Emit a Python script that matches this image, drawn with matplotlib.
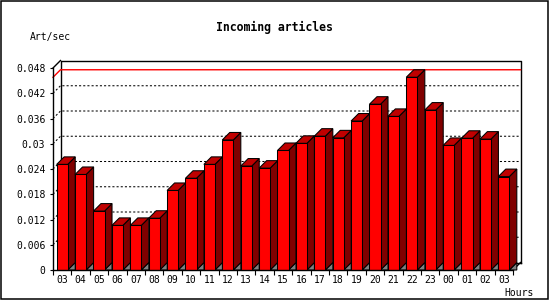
import numpy as np
import matplotlib
matplotlib.use("Agg")
import matplotlib.pyplot as plt
from matplotlib.patches import Rectangle, Polygon

# hourly data
hours = ["03", "04", "05", "06", "07", "08", "09", "10", "11", "12", "13", "14",
         "15", "16", "17", "18", "19", "20", "21", "22", "23", "00", "01", "02", "03"]
art_per_sec = [0.0251, 0.0227, 0.0140, 0.0106, 0.0106, 0.0123, 0.0189, 0.0218,
               0.0251, 0.0309, 0.0247, 0.0242, 0.0284, 0.0301, 0.0318, 0.0314,
               0.0354, 0.0394, 0.0365, 0.0458, 0.0380, 0.0296, 0.0313, 0.0311,
               0.0222]
yticks = [0, 0.006, 0.012, 0.018, 0.024, 0.03, 0.036, 0.042, 0.048]
ytick_labels = ["0", "0.006", "0.012", "0.018", "0.024", "0.03", "0.036", "0.042", "0.048"]

W, H = 550, 300
fig = plt.figure(figsize=(W / 100, H / 100), dpi=100)
fig.patch.set_facecolor("white")

# front plane of the plot, in pixels: x 53..513, y 68..270
ax = fig.add_axes([53 / W, (H - 270) / H, 460 / W, 202 / H])
ymax = 0.048
n = len(art_per_sec)
ax.set_xlim(-0.5, n - 0.5)
ax.set_ylim(0, ymax)
ax.patch.set_alpha(0)

px_x = 460 / n            # pixels per bar slot
px_y = 202 / ymax          # pixels per unit
dx = 7.5 / px_x            # 3d depth offset in data units
dy = 7.5 / px_y
hw = 0.3                   # half width of bar front
lw = 0.75

mono = "DejaVu Sans Mono"

# gridlines on the back wall (dotted) with short slant from the front axis
for y in yticks[1:-1]:
    ax.plot([-0.5, -0.5 + dx, n - 0.5 + dx], [y, y + dy, y + dy],
            color="black", lw=lw, ls=(0, (2, 2)), clip_on=False, zorder=1)

# red line at the maximum value
vmax = max(art_per_sec)
ax.plot([-0.5, -0.5 + dx, n - 0.5 + dx], [vmax, vmax + dy, vmax + dy],
        color="red", lw=1.0, clip_on=False, zorder=1.5)

# back wall frame
x0, x1 = -0.5, n - 0.5
ax.plot([x0 + dx, x0 + dx, x1 + dx, x1 + dx], [dy, ymax + dy, ymax + dy, dy],
        color="black", lw=1.0, clip_on=False, zorder=1)
ax.plot([x0, x0 + dx], [ymax, ymax + dy], color="black", lw=1.0, clip_on=False, zorder=1)
ax.plot([x1, x1 + dx], [0, dy], color="black", lw=1.0, clip_on=False, zorder=1)
ax.plot([x0 + dx, x1 + dx], [dy, dy], color="black", lw=1.0, clip_on=False, zorder=1)

# 3d bars
for i, v in enumerate(art_per_sec):
    l, r = i - hw, i + hw
    ax.add_patch(Polygon([(r, 0), (r + dx, dy), (r + dx, 0)], closed=True,
                         fc="#808080", ec="black", lw=lw, clip_on=False, zorder=2))
    ax.add_patch(Polygon([(r, 0), (r + dx, dy), (r + dx, v + dy), (r, v)], closed=True,
                         fc="#800000", ec="black", lw=lw, clip_on=False, zorder=2))
    ax.add_patch(Polygon([(l, v), (l + dx, v + dy), (r + dx, v + dy), (r, v)], closed=True,
                         fc="#C00000", ec="black", lw=lw, clip_on=False, zorder=2))
    ax.add_patch(Rectangle((l, 0), 2 * hw, v, fc="#FF0000", ec="black", lw=lw,
                           clip_on=False, zorder=2))

# front axes
for s in ["top", "right"]:
    ax.spines[s].set_visible(False)
for s in ["left", "bottom"]:
    ax.spines[s].set_linewidth(1.0)
    ax.spines[s].set_zorder(3)

ax.set_yticks(yticks)
ax.set_yticklabels(ytick_labels, family=mono, fontsize=7)
ax.tick_params(axis="y", direction="out", length=2.5, width=0.8, pad=3)

ax.set_xticks(np.arange(n + 1) - 0.5)
ax.set_xticklabels([])
ax.tick_params(axis="x", which="major", direction="out", length=3.5, width=0.8)
ax.set_xticks(np.arange(n), minor=True)
ax.set_xticklabels(hours, minor=True, family=mono, fontsize=7)
ax.tick_params(axis="x", which="minor", length=0, pad=3.5)

# texts
fig.text(274 / W, 1 - 27 / H, "Incoming articles", family=mono, fontsize=8.3,
         fontweight="bold", ha="center", va="center")
fig.text(30 / W, 1 - 37 / H, "Art/sec", family=mono, fontsize=7, ha="left", va="center")
fig.text(504 / W, 1 - 293 / H, "Hours", family=mono, fontsize=7, ha="left", va="center")

# outer frame
fig.add_artist(Rectangle((1 / W, 1.5 / H), 547 / W, 297.5 / H, transform=fig.transFigure,
                         fill=False, ec="black", lw=1.1))

fig.savefig("out.png", dpi=100)
